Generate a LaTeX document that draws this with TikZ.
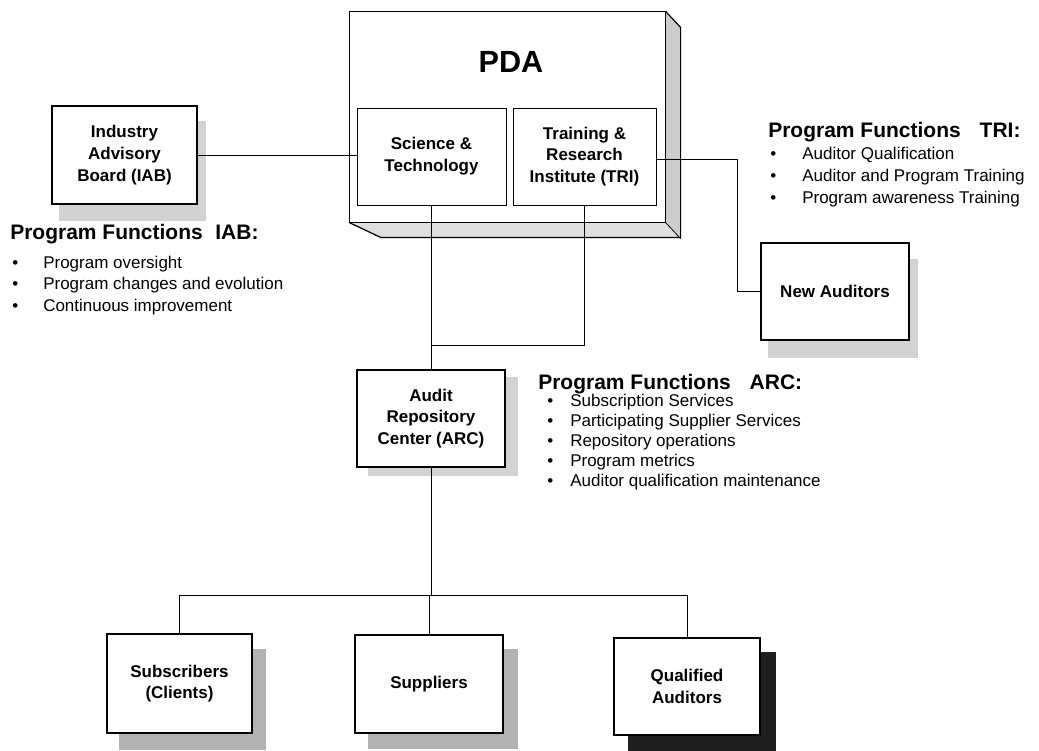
\documentclass[tikz,border=0pt]{standalone}
\usepackage{fontspec}
\setmainfont{Liberation Sans}
\usetikzlibrary{backgrounds}
\def\pxu{0.75pt}
\newcommand\bl[2]{\makebox[#1][l]{\textbullet}#2}
\newcommand\boxshadow[4]{\fill[#4] ([shift={(#2,#3)}]#1.north west) rectangle ([shift={(#2,#3)}]#1.south east);}
\begin{document}
\begin{tikzpicture}[x=0.75pt,y=-0.75pt,
  boxlbl/.style={font=\bfseries\fontsize{12.75}{16.3}\selectfont, align=center},
  orgbox/.style={draw, line width=0.9pt, fill=white, inner sep=0pt, boxlbl},
  conn/.style={line width=0.6pt},
  head/.style={anchor=base west, inner sep=0pt, font=\bfseries\fontsize{15.75}{19}\selectfont},
  item/.style={anchor=base west, inner sep=0pt, font=\fontsize{12.75}{15}\selectfont}]
\useasboundingbox (0,0) rectangle (1039,750);

% PDA box with bevel
\node[draw, line width=0.9pt, inner sep=0pt, minimum width=315*\pxu, minimum height=210*\pxu] (pda) at (507.5,117) {};
\fill[gray!25] (pda.north east) -- ++(15,16) -- ++(0,210) -- ++(-300,0) -- (pda.south west) -- (pda.south east) -- cycle;
\fill[gray!40] (pda.north east) -- ++(15,16) -- ++(0,210) -- (pda.south east) -- cycle;
\draw[line width=0.9pt] (pda.north east) -- ++(15,16) -- ++(0,210) -- ++(-300,0) -- (pda.south west);
\draw[line width=0.6pt] (pda.south east) -- ++(15,16);
\draw[line width=0.9pt, fill=white] (pda.north west) rectangle (pda.south east);
\node[font=\bfseries\fontsize{23}{27}\selectfont] (pdalbl) at (511,62) {PDA};

\node[orgbox, line width=0.6pt, minimum width=149*\pxu, minimum height=97*\pxu] (st) at (431.5,156.5) {Science \&\\Technology};
\node[orgbox, line width=0.6pt, minimum width=143*\pxu, minimum height=97*\pxu] (tri) at (584.5,156.5) {Training \&\\Research\\Institute (TRI)};

% other boxes
\node[orgbox, minimum width=145*\pxu, minimum height=98*\pxu] (iab) at (124.5,155) {Industry\\Advisory\\Board (IAB)};
\node[orgbox, minimum width=148*\pxu, minimum height=97*\pxu] (na) at (835,291.5) {New Auditors};
\node[orgbox, minimum width=148*\pxu, minimum height=97*\pxu] (arc) at (431,418.5) {Audit\\Repository\\Center (ARC)};
\node[orgbox, minimum width=145*\pxu, minimum height=99*\pxu] (sub) at (179.5,683.5) {Subscribers\\(Clients)};
\node[orgbox, minimum width=148*\pxu, minimum height=98*\pxu] (sup) at (429,684) {Suppliers};
\node[orgbox, minimum width=146*\pxu, minimum height=97*\pxu] (qa) at (687,686.5) {Qualified\\Auditors};

% shadows
\begin{scope}[on background layer]
\boxshadow{iab}{8}{16}{gray!35}
\boxshadow{na}{8}{17}{gray!35}
\boxshadow{arc}{12}{8}{gray!35}
\boxshadow{sub}{13}{16}{gray!60}
\boxshadow{sup}{14}{15}{gray!60}
\boxshadow{qa}{15}{15}{black!88}
\end{scope}

% connectors
\coordinate (j1) at (431,345);
\coordinate (j2) at (430,595);
\coordinate (k) at (737,159);
\draw[conn] (iab.east) -- (iab.east -| st.west);
\draw[conn] (tri.east |- k) -- (k) -- (k |- na.west) -- (na.west);
\draw[conn] (st.south) -- (st.south |- j1) -- (tri.south |- j1) -- (tri.south);
\draw[conn] (j1) -- (arc.north);
\draw[conn] (arc.south) -- (arc.south |- j2);
\draw[conn] (sub.north) -- (sub.north |- j2) -- (qa.north |- j2) -- (qa.north);
\draw[conn] (sup.north |- j2) -- (sup.north);

% Program functions IAB
\node[head] (hiab) at (10,239.5) {Program Functions\hspace{0.6em}IAB:};
\node[item] (iab1) at (12,268) {\bl{23.25pt}{Program oversight}};
\node[item] (iab2) at (12,289.5) {\bl{23.25pt}{Program changes and evolution}};
\node[item] (iab3) at (12,311) {\bl{23.25pt}{Continuous improvement}};

% Program functions TRI
\node[head] (htri) at (768,137.5) {Program Functions\hspace{0.9em}TRI:};
\node[item] (tri1) at (770,159) {\bl{24pt}{Auditor Qualification}};
\node[item] (tri2) at (770,181) {\bl{24pt}{Auditor and Program Training}};
\node[item] (tri3) at (770,203) {\bl{24pt}{Program awareness Training}};

% Program functions ARC
\node[head] (harc) at (538,389.5) {Program Functions\hspace{0.9em}ARC:};
\node[item] (arc1) at (547,406) {\bl{17.25pt}{Subscription Services}};
\node[item] (arc2) at (547,426) {\bl{17.25pt}{Participating Supplier Services}};
\node[item] (arc3) at (547,446) {\bl{17.25pt}{Repository operations}};
\node[item] (arc4) at (547,466) {\bl{17.25pt}{Program metrics}};
\node[item] (arc5) at (547,486) {\bl{17.25pt}{Auditor qualification maintenance}};
\end{tikzpicture}
\end{document}
